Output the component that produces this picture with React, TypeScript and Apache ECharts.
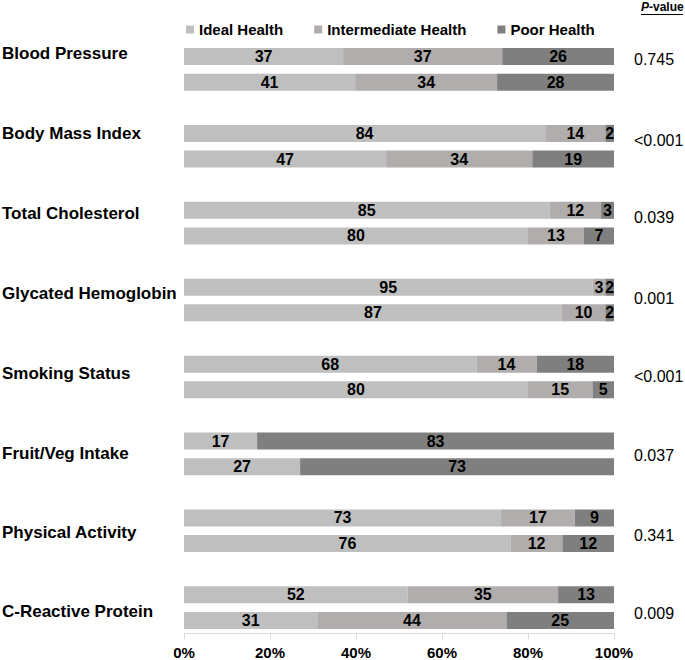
import React, { useEffect, useRef } from "react";
import * as echarts from "echarts";

const categories = [
  "Blood Pressure",
  "Body Mass Index",
  "Total Cholesterol",
  "Glycated Hemoglobin",
  "Smoking Status",
  "Fruit/Veg Intake",
  "Physical Activity",
  "C-Reactive Protein",
];
const pValues = ["0.745", "<0.001", "0.039", "0.001", "<0.001", "0.037", "0.341", "0.009"];
const seriesNames = ["Ideal Health", "Intermediate Health", "Poor Health"];
// two bars per category (top, bottom)
const ideal = [37, 41, 84, 47, 85, 80, 95, 87, 68, 80, 17, 27, 73, 76, 52, 31];
const intermediate = [37, 34, 14, 34, 12, 13, 3, 10, 14, 15, 0, 0, 17, 12, 35, 44];
const poor = [26, 28, 2, 19, 3, 7, 2, 2, 18, 5, 83, 73, 9, 12, 13, 25];
const xTicks = [0, 20, 40, 60, 80, 100];

const colors = ["#bfbfbf", "#b1adac", "#7f7f7f"];
const FONT = "'Liberation Sans', Arial, sans-serif";

// text label positions (pixel centres)
const catLabelY = [54, 134, 214, 294, 374, 454, 533, 612];
const pLabelY = [60, 141, 218, 299, 377, 456, 536, 614];

export default function App() {
  const ref = useRef<HTMLDivElement>(null);
  useEffect(() => {
    if (!ref.current) return;
    const chart = echarts.init(ref.current, null, { renderer: "svg" });

    // build slots: 3 per category (top bar, bottom bar, gap), last gap dropped
    const slots: string[] = [];
    const slotIndexOfBar: number[] = [];
    categories.forEach((c, g) => {
      slotIndexOfBar.push(slots.length);
      slots.push(c + " a");
      slotIndexOfBar.push(slots.length);
      slots.push(c + " b");
      if (g < categories.length - 1) slots.push(c + " gap");
    });
    const raw = [ideal, intermediate, poor];
    const sums = ideal.map((_, i) => ideal[i] + intermediate[i] + poor[i]);

    const series = raw.map((arr, si) => {
      const data: any[] = slots.map(() => null);
      arr.forEach((v, i) => {
        data[slotIndexOfBar[i]] = { value: (v / sums[i]) * 100, raw: v };
      });
      return {
        name: seriesNames[si],
        type: "bar",
        stack: "total",
        barWidth: 17,
        itemStyle: { color: colors[si] },
        label: {
          show: true,
          position: "inside",
          fontFamily: FONT,
          fontWeight: "bold",
          fontSize: 16,
          color: "#000",
          formatter: (p: any) => (p.data && p.data.raw ? String(p.data.raw) : ""),
        },
        data,
      };
    });

    const graphics: any[] = [];
    categories.forEach((c, i) => {
      graphics.push({
        type: "text",
        left: 2,
        top: catLabelY[i] - 9,
        style: { text: c, font: `bold 17px ${FONT}`, fill: "#000" },
      });
      graphics.push({
        type: "text",
        left: 634,
        top: pLabelY[i] - 9,
        style: { text: pValues[i], font: `16px ${FONT}`, fill: "#000" },
      });
    });
    graphics.push({
      type: "text",
      left: 641,
      top: 1,
      style: {
        text: "{i|P}{b|-value}",
        rich: {
          i: { font: `italic bold 12px ${FONT}`, fill: "#000" },
          b: { font: `bold 12px ${FONT}`, fill: "#000" },
        },
      },
    });
    graphics.push({
      type: "line",
      shape: { x1: 641, y1: 14.5, x2: 683, y2: 14.5 },
      style: { stroke: "#000", lineWidth: 1 },
    });

    chart.setOption({
      animation: false,
      grid: { left: 184, right: 71, top: 43.7, bottom: 26.7, outerBoundsMode: "none" },
      legend: {
        data: seriesNames,
        left: 181,
        top: 17,
        icon: "rect",
        itemWidth: 8,
        itemHeight: 8,
        itemGap: 31,
        textStyle: { fontFamily: FONT, fontWeight: "bold", fontSize: 15, color: "#000" },
      },
      xAxis: {
        type: "value",
        min: 0,
        max: 100,
        interval: 20,
        axisLine: { show: true, lineStyle: { color: "#d9d9d9" } },
        axisTick: { show: true, length: 6, lineStyle: { color: "#d9d9d9" } },
        splitLine: { show: false },
        axisLabel: {
          fontFamily: FONT,
          fontWeight: "bold",
          fontSize: 15,
          color: "#000",
          margin: 12,
          customValues: xTicks,
          formatter: (v: number) => `${v}%`,
        },
      },
      yAxis: {
        type: "category",
        data: slots,
        inverse: true,
        axisLine: { show: false },
        axisTick: { show: false },
        axisLabel: { show: false },
      },
      series,
      graphic: graphics,
    });
    return () => chart.dispose();
  }, []);
  return <div ref={ref} style={{ width: 685, height: 660, position: "absolute", left: 0, top: 0 }} />;
}
